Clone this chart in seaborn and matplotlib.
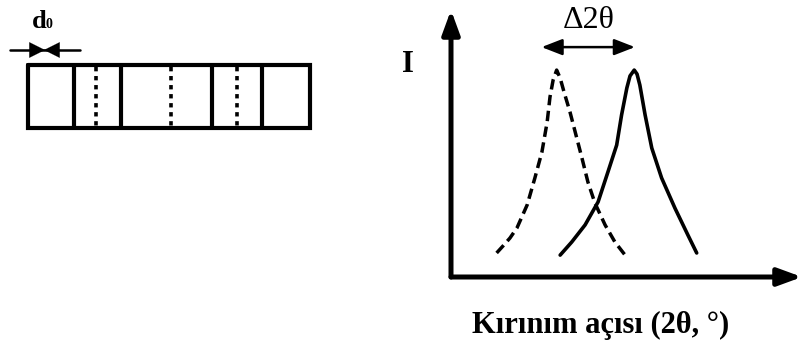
import matplotlib
matplotlib.use("Agg")
import matplotlib.pyplot as plt
import seaborn as sns
import pandas as pd

# ---------------- data ----------------
# strained (dashed) peak: 2theta (arb.) and intensity (arb.)
dashed_2theta = [13.0, 14.8, 16.8, 18.8, 21.7, 23.9, 25.9, 27.4, 28.2, 29.1, 30.1,
                 31.1, 32.2, 33.9, 35.6, 37.3, 39.0, 41.0, 43.9, 46.7, 49.6]
dashed_int = [0.090, 0.116, 0.146, 0.184, 0.270, 0.371, 0.468, 0.581, 0.674, 0.738, 0.775,
              0.745, 0.693, 0.618, 0.532, 0.446, 0.356, 0.277, 0.195, 0.131, 0.082]
# reference (solid) peak
solid_2theta = [31.1, 34.4, 38.2, 41.9, 44.7, 47.2, 48.6, 50.1, 51.0, 52.2,
                53.0, 53.8, 55.3, 57.2, 60.0, 63.8, 67.5, 70.0]
solid_int = [0.082, 0.131, 0.195, 0.281, 0.393, 0.494, 0.607, 0.708, 0.753, 0.775,
             0.760, 0.719, 0.607, 0.483, 0.371, 0.258, 0.157, 0.090]
# delta 2theta arrow span (arb. 2theta units)
delta_span = [25.8, 52.4]

# lattice sketch: cell walls (solid) and shifted planes (dotted)
cell_walls = [28, 74, 121, 212, 262, 310]
shifted_planes = [96, 171, 237]

label_I = "I"
label_x = "Kırınım açısı (2θ, °)"
label_delta = "Δ2θ"
label_d = "d"
label_d_sub = "0"

# ---------------- figure ----------------
sns.set_theme(style="white")
plt.rcParams["font.family"] = ["Liberation Serif", "DejaVu Serif"]
plt.rcParams["text.color"] = "black"

W, H = 802, 340
fig = plt.figure(figsize=(W / 100, H / 100), dpi=100)
fig.patch.set_facecolor("white")

# background axes in pixel coordinates for the sketch on the left + labels
bg = fig.add_axes([0, 0, 1, 1])
bg.set_xlim(0, W)
bg.set_ylim(H, 0)
bg.axis("off")

# box outline
top, bot = 65, 128
bg.plot([cell_walls[0], cell_walls[-1], cell_walls[-1], cell_walls[0], cell_walls[0]],
        [top, top, bot, bot, top], color="black", lw=3.0, solid_joinstyle="miter")
for x in cell_walls[1:-1]:
    bg.plot([x, x], [top, bot], color="black", lw=3.0)
for x in shifted_planes:
    bg.plot([x, x], [top + 2, bot - 2], color="black", lw=2.6, linestyle=(0, (1.2, 1.3)))

# d0 marker arrows
bg.plot([10, 80], [50, 50], color="black", lw=1.8)
head = dict(arrowstyle="-|>,head_length=0.8,head_width=0.4",
            mutation_scale=14, color="black", lw=0.1, shrinkA=0, shrinkB=0)
bg.annotate("", xy=(45, 50), xytext=(29, 50), arrowprops=head)
bg.annotate("", xy=(44, 50), xytext=(61, 50), arrowprops=head)
bg.text(32, 27.5, label_d, fontsize=19, fontweight="bold", ha="left", va="baseline",
        color="black")
bg.text(46, 27.5, label_d_sub, fontsize=10, fontweight="bold", ha="left", va="baseline",
        color="black")

# labels for XRD plot
bg.text(408, 72, label_I, fontsize=22, fontweight="bold", ha="center", va="baseline",
        color="black")
bg.text(601, 333, label_x, fontsize=22, fontweight="bold", ha="center", va="baseline",
        color="black")
bg.text(589, 28, label_delta, fontsize=23, ha="center", va="baseline", color="black")

# XRD axes
ax = fig.add_axes([451 / W, (H - 277) / H, (W - 451) / W, (277 - 10) / H])
ax.patch.set_alpha(0)
ax.set_xlim(0, 100)
ax.set_ylim(0, 1)
ax.axis("off")

df_d = pd.DataFrame({"two_theta": dashed_2theta, "I": dashed_int})
df_s = pd.DataFrame({"two_theta": solid_2theta, "I": solid_int})
sns.lineplot(data=df_d, x="two_theta", y="I", ax=ax, sort=False, color="black",
             lw=2.5, linestyle=(0, (3.0, 1.6)))
sns.lineplot(data=df_s, x="two_theta", y="I", ax=ax, sort=False, color="black",
             lw=2.6)

# axis arrows
arrow_kw = dict(arrowstyle="-|>,head_length=0.9,head_width=0.33",
                mutation_scale=16, color="black", lw=3.6, shrinkA=0, shrinkB=0)
ax.annotate("", xy=(0, 1.0), xytext=(0, 0), xycoords="axes fraction",
            arrowprops=arrow_kw, annotation_clip=False)
ax.annotate("", xy=(1.0, 0), xytext=(0, 0), xycoords="axes fraction",
            arrowprops=arrow_kw, annotation_clip=False)

# delta 2theta double arrow
ax.annotate("", xy=(delta_span[1], 0.861), xytext=(delta_span[0], 0.861),
            arrowprops=dict(arrowstyle="<|-|>,head_length=0.9,head_width=0.35",
                            mutation_scale=14, color="black", lw=1.8,
                            shrinkA=0, shrinkB=0), annotation_clip=False)

fig.savefig("out.png", dpi=100, facecolor="white")
